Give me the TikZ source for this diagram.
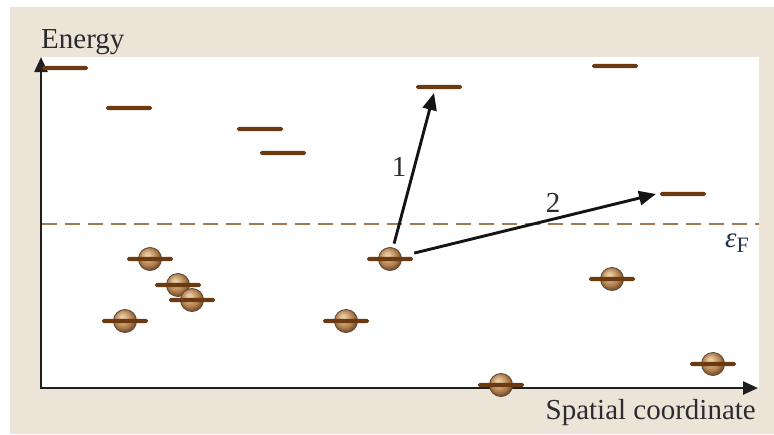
\documentclass[tikz,border=0pt]{standalone}
\usepackage{fontspec}
\setmainfont{Liberation Serif}
\usetikzlibrary{arrows.meta}
\definecolor{bgbeige}{HTML}{EDE4D8}
\definecolor{levbrown}{HTML}{6B3A10}
\definecolor{fermi}{HTML}{A47850}
\definecolor{ballhi}{HTML}{E8CBA4}
\definecolor{ballmid}{HTML}{AD7B48}
\definecolor{balldark}{HTML}{7E5430}
\definecolor{ballrim}{HTML}{5E4C3C}
\definecolor{txt}{HTML}{2B2B30}
\definecolor{eftxt}{HTML}{22304A}
\pgfdeclareradialshading{elball}{\pgfqpoint{-7bp}{9bp}}{color(0bp)=(ballhi); color(4bp)=(ballhi); color(20bp)=(ballmid); color(26bp)=(balldark); color(50bp)=(balldark)}
\begin{document}
\begin{tikzpicture}[x=1pt,y=-1pt,
  lvl/.style={rectangle, fill=levbrown, minimum width=46pt, minimum height=4.2pt, inner sep=0pt, rounded corners=1.8pt},
  electron/.style={circle, minimum size=23pt, inner sep=0pt, draw=ballrim, line width=0.9pt, shading=elball},
  lbl/.style={inner sep=0pt, text=txt, font=\fontsize{29}{34}\selectfont},
  axisline/.style={line width=2.5pt, draw=black!88, {Triangle[length=15pt,width=13pt]}-{Triangle[length=15pt,width=13pt]}},
  arr/.style={line width=2.9pt, draw=black!92, -{Triangle[length=17pt,width=14pt]}},
  fermiline/.style={line width=2.6pt, draw=fermi, dash pattern=on 15pt off 8pt}]
\useasboundingbox (0,0) rectangle (774,434);
\fill[bgbeige] (10,7) rectangle (774,434);
\fill[white] (41,57) rectangle (759,388);
% Fermi level
\coordinate (fl) at (42,224);
\coordinate (fr) at (759,224);
\draw[fermiline] (fl) -- (fr);
% axes
\coordinate (ytop) at (41,57);
\coordinate (O) at (41,388);
\coordinate (xend) at (758,388);
\draw[axisline] (ytop) -- (O) -- (xend);
\node[lbl, anchor=base west] (ey) at (41,48) {Energy};
\node[lbl, anchor=base east] (sx) at (756,419) {Spatial coordinate};
\node[lbl, anchor=base west, text=eftxt] (ef) at (725,247) {\itshape ε\raisebox{-0.45ex}{\upshape\fontsize{22}{24}\selectfont F}};
% empty levels
\node[lvl] (u1) at (65,68) {};
\node[lvl] (u2) at (129,108) {};
\node[lvl] (u3) at (260,129) {};
\node[lvl] (u4) at (283,153) {};
\node[lvl] (u5) at (439,87) {};
\node[lvl] (u6) at (615,66) {};
\node[lvl] (u7) at (683,194) {};
% occupied levels
\foreach \n/\x/\y in {a/150/259, b/178/285, c/192/300, d/125/321, e/346/321, f/390/259, g/501/385, h/612/279, i/713/364}{
  \node[electron] (\n) at (\x,\y) {};
  \node[lvl] (l\n) at (\n) {};
}
% transitions
\coordinate (t1) at (434,93);
\coordinate (t2) at (656,194);
\draw[arr, shorten <=4pt] (f) -- (t1);
\draw[arr, shorten <=13pt] (f) -- (t2);
\node[lbl] (n1) at (399,167) {1};
\node[lbl] (n2) at (553,203) {2};
\end{tikzpicture}
\end{document}
